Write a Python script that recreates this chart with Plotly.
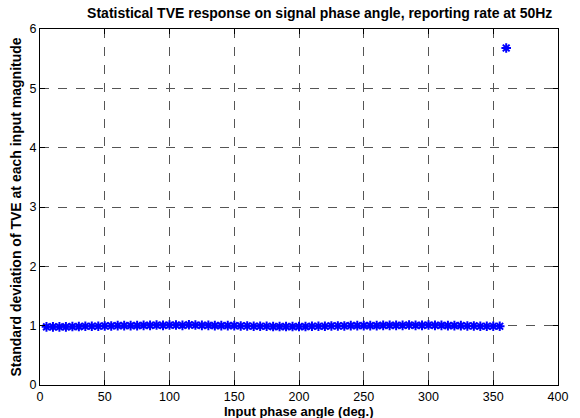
import plotly.graph_objects as go

phase_deg = list(range(5, 360, 5)) + [360]
tve_std = [
    0.98, 0.98, 0.98, 0.98, 0.985, 0.985, 0.99, 0.99, 0.99, 0.995,
    0.995, 1.0, 1.0, 1.0, 1.0, 1.005, 1.005, 1.01, 1.005, 1.01,
    1.01, 1.005, 1.015, 1.01, 1.005, 1.005, 1.0, 1.0, 1.0, 1.0,
    0.995, 0.995, 0.99, 0.99, 0.99, 0.985, 0.985, 0.985, 0.985, 0.985,
    0.985, 0.99, 0.99, 0.99, 0.995, 0.995, 0.995, 1.0, 1.0, 1.0,
    1.0, 1.0, 1.005, 1.005, 1.005, 1.005, 1.01, 1.005, 1.005, 1.01,
    1.005, 1.005, 1.0, 1.0, 1.0, 0.995, 0.995, 0.99, 0.99, 0.99,
    0.99,
    5.68,
]

title_text = "Statistical TVE response on signal phase angle, reporting rate at 50Hz"
x_label = "Input phase angle (deg.)"
y_label = "Standard deviation of TVE at each input magnitude"

FONT = "Liberation Sans, Arial, Helvetica"

fig = go.Figure()
fig.add_trace(go.Scatter(
    x=phase_deg, y=tve_std, mode="markers",
    marker=dict(symbol="asterisk-open", size=8, color="#0000ff",
                line=dict(color="#0000ff", width=2)),
    showlegend=False,
))

axis_common = dict(
    showline=True, linecolor="black", linewidth=1, mirror="ticks",
    ticks="inside", ticklen=5, tickcolor="black",
    showgrid=True, gridcolor="#555555", griddash="dash", gridwidth=1,
    zeroline=False, automargin=False,
    tickfont=dict(family=FONT, size=12.5, color="black"),
)

fig.update_layout(
    width=580, height=418,
    margin=dict(l=40, r=22, t=29, b=33),
    paper_bgcolor="white", plot_bgcolor="white",
    title=dict(text="<b>" + title_text + "</b>", x=0.54, xanchor="center",
               xref="paper", y=0.968, yanchor="middle",
               font=dict(family=FONT, size=14, color="black")),
    xaxis=dict(range=[0, 400], tick0=0, dtick=50, **axis_common),
    yaxis=dict(range=[0, 6], tick0=0, dtick=1,
               title=dict(text="<b>" + y_label + "</b>", standoff=4,
                          font=dict(family=FONT, size=14, color="black")),
               **axis_common),
    annotations=[dict(
        text="<b>" + x_label + "</b>", xref="paper", yref="paper",
        x=0.5, y=-33 / 356, xanchor="center", yanchor="bottom",
        showarrow=False, yshift=-3,
        font=dict(family=FONT, size=13, color="black"),
    )],
)

fig.write_html("out.html", post_script="document.body.style.margin='0';",
               config={"displayModeBar": False})
